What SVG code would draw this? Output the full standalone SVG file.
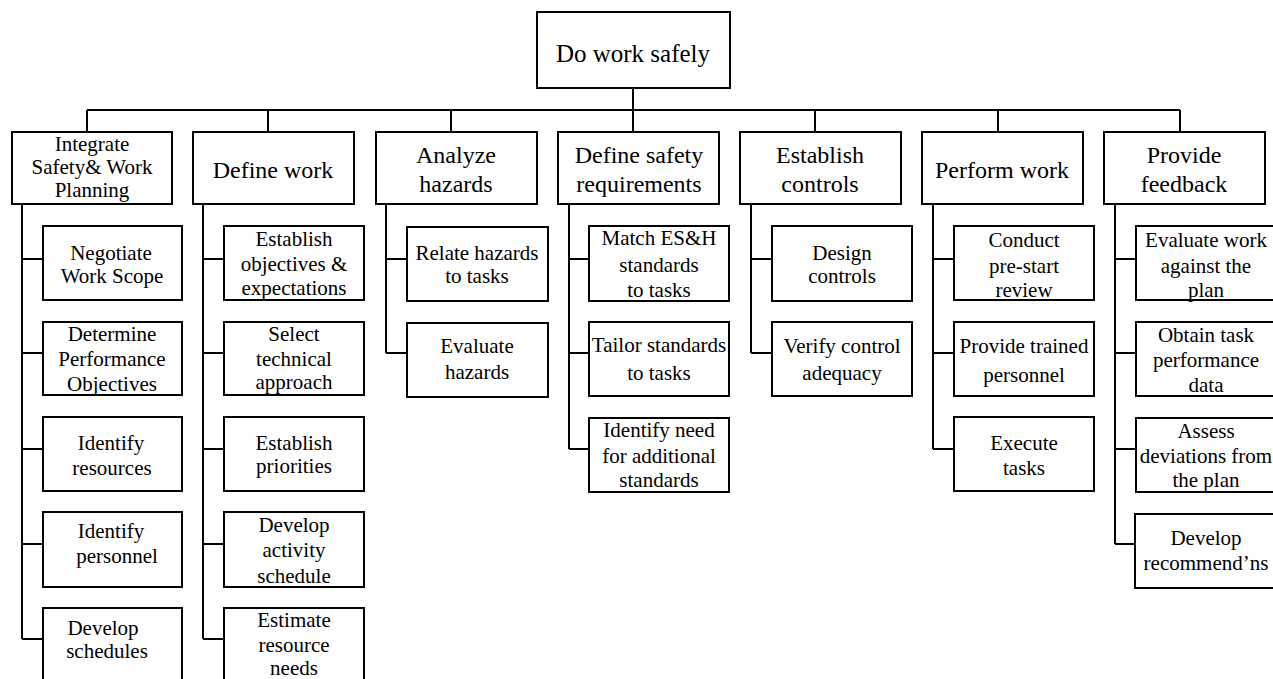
<svg xmlns="http://www.w3.org/2000/svg" width="1273" height="679" viewBox="0 0 1273 679" font-family="'Liberation Serif', 'DejaVu Serif', serif">
<style>
rect{fill:#fff;stroke:#000;stroke-width:2}
text{font-family:"Liberation Serif","DejaVu Serif",serif;fill:#000;text-anchor:middle}
.t0{font-size:25px}
.t1{font-size:24px}
.t1s{font-size:21px}
.t2{font-size:21px}
#connectors path{fill:none;stroke:#000;stroke-width:2}
</style>
<rect x="0" y="0" width="1273" height="679" style="stroke:none"/>
<g id="connectors">
<path d="M633 88V110M87 110H1180M87 110V132M268 110V132M451 110V132M633 110V132M815 110V132M998 110V132M1180 110V132"/>
<path d="M22 204V639M22 259H43M22 353H43M22 449H43M22 544H43M22 639H43"/>
<path d="M203 204V639M203 259H224M203 353H224M203 449H224M203 544H224M203 639H224"/>
<path d="M386 204V353M386 259H407M386 353H407"/>
<path d="M569 204V449M569 259H589M569 353H589M569 449H589"/>
<path d="M751 204V353M751 259H772M751 353H772"/>
<path d="M933 204V449M933 259H954M933 353H954M933 449H954"/>
<path d="M1115 204V544M1115 259H1136M1115 353H1136M1115 449H1136M1115 544H1136"/>
</g>
<g id="root"><rect x="537" y="12" width="193" height="76"/><text class="t0" x="633" y="62">Do work safely</text></g>
<g id="n1"><rect x="12" y="132" width="160" height="72"/><text class="t1s" x="92" y="151">Integrate</text><text class="t1s" x="92" y="174">Safety&amp; Work</text><text class="t1s" x="92" y="197">Planning</text></g>
<g id="n2"><rect x="193" y="132" width="161" height="72"/><text class="t1" x="273" y="178">Define work</text></g>
<g id="n3"><rect x="376" y="132" width="161" height="72"/><text class="t1" x="456" y="163">Analyze</text><text class="t1" x="456" y="192">hazards</text></g>
<g id="n4"><rect x="558" y="132" width="161" height="72"/><text class="t1" x="639" y="163">Define safety</text><text class="t1" x="639" y="192">requirements</text></g>
<g id="n5"><rect x="740" y="132" width="161" height="72"/><text class="t1" x="820" y="163">Establish</text><text class="t1" x="820" y="192">controls</text></g>
<g id="n6"><rect x="922" y="132" width="161" height="72"/><text class="t1" x="1002" y="178">Perform work</text></g>
<g id="n7"><rect x="1104" y="132" width="161" height="72"/><text class="t1" x="1184" y="163">Provide</text><text class="t1" x="1184" y="192">feedback</text></g>

<g id="n1a"><rect x="43" y="226" width="139" height="74"/><text class="t2" x="111" y="260">Negotiate</text><text class="t2" x="112" y="283">Work Scope</text></g>
<g id="n1b"><rect x="43" y="322" width="139" height="73"/><text class="t2" x="112" y="341">Determine</text><text class="t2" x="112" y="366">Performance</text><text class="t2" x="112" y="391">Objectives</text></g>
<g id="n1c"><rect x="43" y="417" width="139" height="74"/><text class="t2" x="111" y="450">Identify</text><text class="t2" x="112" y="475">resources</text></g>
<g id="n1d"><rect x="43" y="512" width="139" height="75"/><text class="t2" x="111" y="538">Identify</text><text class="t2" x="117" y="563">personnel</text></g>
<g id="n1e"><rect x="43" y="608" width="139" height="80"/><text class="t2" x="103" y="635">Develop</text><text class="t2" x="107" y="658">schedules</text></g>

<g id="n2a"><rect x="224" y="226" width="140" height="74"/><text class="t2" x="294" y="246">Establish</text><text class="t2" x="294" y="271">objectives &amp;</text><text class="t2" x="294" y="295">expectations</text></g>
<g id="n2b"><rect x="224" y="322" width="140" height="73"/><text class="t2" x="294" y="341">Select</text><text class="t2" x="294" y="366">technical</text><text class="t2" x="294" y="389">approach</text></g>
<g id="n2c"><rect x="224" y="417" width="140" height="74"/><text class="t2" x="294" y="450">Establish</text><text class="t2" x="294" y="473">priorities</text></g>
<g id="n2d"><rect x="224" y="512" width="140" height="75"/><text class="t2" x="294" y="532">Develop</text><text class="t2" x="294" y="557">activity</text><text class="t2" x="294" y="583">schedule</text></g>
<g id="n2e"><rect x="224" y="608" width="140" height="80"/><text class="t2" x="294" y="627">Estimate</text><text class="t2" x="294" y="652">resource</text><text class="t2" x="294" y="675">needs</text></g>

<g id="n3a"><rect x="407" y="227" width="141" height="74"/><text class="t2" x="477" y="260">Relate hazards</text><text class="t2" x="477" y="283">to tasks</text></g>
<g id="n3b"><rect x="407" y="323" width="141" height="74"/><text class="t2" x="477" y="353">Evaluate</text><text class="t2" x="477" y="379">hazards</text></g>

<g id="n4a"><rect x="589" y="226" width="140" height="75"/><text class="t2" x="659" y="245">Match ES&amp;H</text><text class="t2" x="659" y="272">standards</text><text class="t2" x="659" y="297">to tasks</text></g>
<g id="n4b"><rect x="589" y="322" width="140" height="74"/><text class="t2" x="659" y="352">Tailor standards</text><text class="t2" x="659" y="380">to tasks</text></g>
<g id="n4c"><rect x="589" y="418" width="140" height="74"/><text class="t2" x="659" y="437">Identify need</text><text class="t2" x="659" y="463">for additional</text><text class="t2" x="659" y="487">standards</text></g>

<g id="n5a"><rect x="772" y="226" width="140" height="75"/><text class="t2" x="842" y="260">Design</text><text class="t2" x="842" y="283">controls</text></g>
<g id="n5b"><rect x="772" y="322" width="140" height="74"/><text class="t2" x="842" y="353">Verify control</text><text class="t2" x="842" y="380">adequacy</text></g>

<g id="n6a"><rect x="954" y="226" width="140" height="74"/><text class="t2" x="1024" y="247">Conduct</text><text class="t2" x="1024" y="273">pre-start</text><text class="t2" x="1024" y="297">review</text></g>
<g id="n6b"><rect x="954" y="322" width="140" height="74"/><text class="t2" x="1024" y="353">Provide trained</text><text class="t2" x="1024" y="382">personnel</text></g>
<g id="n6c"><rect x="954" y="417" width="140" height="74"/><text class="t2" x="1024" y="450">Execute</text><text class="t2" x="1024" y="475">tasks</text></g>

<g id="n7a"><rect x="1136" y="226" width="140" height="74"/><text class="t2" x="1206" y="247">Evaluate work</text><text class="t2" x="1206" y="273">against the</text><text class="t2" x="1206" y="297">plan</text></g>
<g id="n7b"><rect x="1136" y="322" width="140" height="74"/><text class="t2" x="1206" y="342">Obtain task</text><text class="t2" x="1206" y="367">performance</text><text class="t2" x="1206" y="392">data</text></g>
<g id="n7c"><rect x="1136" y="418" width="140" height="74"/><text class="t2" x="1206" y="438">Assess</text><text class="t2" x="1206" y="463">deviations from</text><text class="t2" x="1206" y="487">the plan</text></g>
<g id="n7d"><rect x="1135" y="514" width="141" height="74"/><text class="t2" x="1206" y="545">Develop</text><text class="t2" x="1206" y="570">recommend’ns</text></g>
</svg>
